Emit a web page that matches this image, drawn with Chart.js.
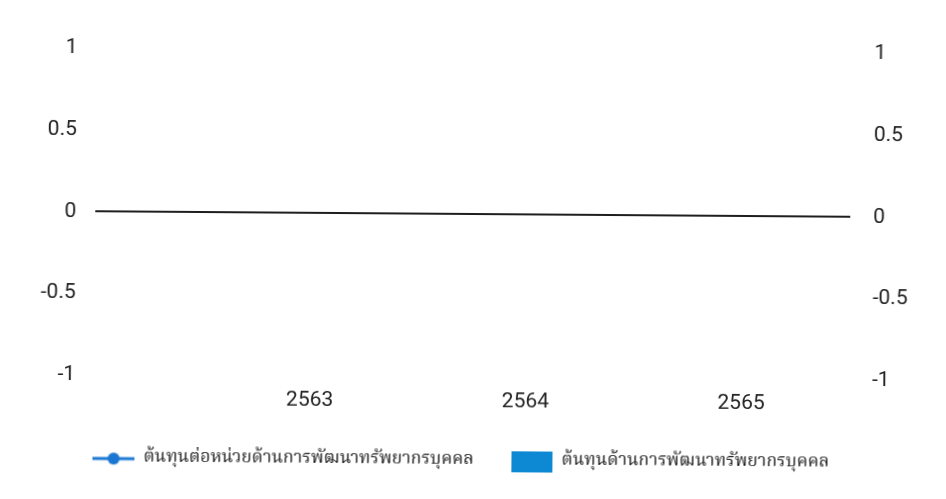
<!DOCTYPE html>
<html>
<head>
<meta charset="utf-8">
<script src="https://cdn.jsdelivr.net/npm/chart.js@4/dist/chart.umd.min.js"></script>
<style>
    html, body { margin: 0; padding: 0; background: #ffffff; overflow: hidden; }
    #Wykres { display: block; transform: rotate(0.42deg); }
</style>
</head>
<body>
<canvas id="Wykres" width="946" height="499"></canvas>
<script>
// ปีงบประมาณ
const years = [2563, 2564, 2565];
// ต้นทุนด้านการพัฒนาทรัพยากรบุคคล (แท่ง)
const costHR = [0, 0, 0];
// ต้นทุนต่อหน่วยด้านการพัฒนาทรัพยากรบุคคล (เส้น) - ไม่มีข้อมูล
const unitCostHR = [null, null, null];
// ค่าบนแกนตั้ง
const yTicks = [-1, -0.5, 0, 0.5, 1];

const lineLabel = 'ต้นทุนต่อหน่วยด้านการพัฒนาทรัพยากรบุคคล';
const barLabel = 'ต้นทุนด้านการพัฒนาทรัพยากรบุคคล';
const lineColor = '#1976d2';
const barColor = '#0d88d3';

// small legend markers: line with dot, and a flat box
function lineMarker() {
    const c = document.createElement('canvas');
    c.width = 42; c.height = 14;
    const g = c.getContext('2d');
    g.strokeStyle = lineColor;
    g.lineWidth = 3;
    g.beginPath(); g.moveTo(0, 7); g.lineTo(42, 7); g.stroke();
    g.fillStyle = lineColor;
    g.beginPath(); g.arc(21, 7, 6, 0, Math.PI * 2); g.fill();
    return c;
}
function boxMarker() {
    const c = document.createElement('canvas');
    c.width = 41; c.height = 21;
    const g = c.getContext('2d');
    g.fillStyle = barColor;
    g.fillRect(0, 0, 41, 21);
    return c;
}

document.addEventListener("DOMContentLoaded", function() {
    const ctx = document.getElementById('Wykres').getContext('2d');
    const markers = { line: lineMarker(), bar: boxMarker() };
    const tickFont = { family: 'Roboto, sans-serif', size: 21 };

    new Chart(ctx, {
        type: 'bar',
        data: {
            datasets: [{
                type: 'line',
                label: lineLabel,
                data: years.map((y, i) => ({ x: y, y: unitCostHR[i] })),
                borderColor: lineColor,
                backgroundColor: lineColor,
                borderWidth: 3,
                pointRadius: 6,
                yAxisID: 'y1'
            }, {
                type: 'bar',
                label: barLabel,
                data: years.map((y, i) => ({ x: y, y: costHR[i] })),
                backgroundColor: barColor,
                borderWidth: 0,
                yAxisID: 'y'
            }]
        },
        options: {
            responsive: false,
            animation: false,
            layout: { padding: { top: 51, bottom: 19, left: 0, right: 21 } },
            scales: {
                x: {
                    type: 'linear',
                    offset: false,
                    min: years[0] - 1,
                    max: years[years.length - 1] + 0.5,
                    afterBuildTicks: s => { s.ticks = years.map(v => ({ value: v })); },
                    afterFit: s => { s.height = 38; },
                    grid: { display: false },
                    border: { display: false },
                    ticks: {
                        font: tickFont,
                        color: '#222',
                        padding: 4,
                        maxRotation: 0,
                        callback: v => String(v)
                    }
                },
                y: {
                    position: 'left',
                    min: yTicks[0],
                    max: yTicks[yTicks.length - 1],
                    afterBuildTicks: s => { s.ticks = yTicks.map(v => ({ value: v })); },
                    afterFit: s => { s.width = 95; },
                    border: { display: false },
                    grid: {
                        drawTicks: false,
                        lineWidth: 2,
                        color: c => c.tick && c.tick.value === 0 ? '#1e1e1e' : 'rgba(0,0,0,0)'
                    },
                    ticks: { font: tickFont, color: '#222', padding: 19, callback: v => String(v) }
                },
                y1: {
                    position: 'right',
                    min: yTicks[0],
                    max: yTicks[yTicks.length - 1],
                    afterBuildTicks: s => { s.ticks = yTicks.map(v => ({ value: v })); },
                    afterFit: s => { s.width = 75; },
                    border: { display: false },
                    grid: { display: false, drawTicks: false },
                    ticks: { font: tickFont, color: '#222', padding: 23, callback: v => String(v) }
                }
            },
            plugins: {
                tooltip: { enabled: false },
                legend: {
                    position: 'bottom',
                    labels: {
                        usePointStyle: true,
                        pointStyleWidth: 42,
                        padding: 37,
                        color: '#1a1a1a',
                        font: { family: "'Noto Serif Thai', 'Noto Sans Thai', 'Noto Sans', serif", size: 17.5 },
                        generateLabels: function(chart) {
                            const items = Chart.defaults.plugins.legend.labels.generateLabels(chart);
                            items.forEach(it => {
                                const ds = chart.data.datasets[it.datasetIndex];
                                it.pointStyle = markers[ds.type];
                            });
                            return items;
                        }
                    }
                }
            }
        }
    });
});
</script>
</body>
</html>
